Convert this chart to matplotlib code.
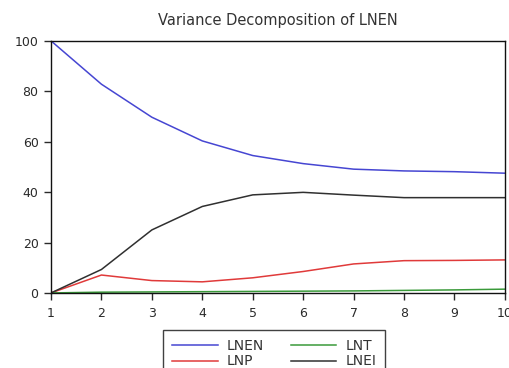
import matplotlib
matplotlib.use("Agg")
import matplotlib.pyplot as plt

plt.rcParams['font.family'] = ['DejaVu Sans']

periods = [1, 2, 3, 4, 5, 6, 7, 8, 9, 10]
lnen = [100.0, 82.8, 69.7, 60.3, 54.5, 51.3, 49.1, 48.4, 48.1, 47.5]
lnp = [0.0, 7.1, 4.9, 4.4, 6.0, 8.5, 11.5, 12.8, 12.9, 13.1]
lnt = [0.0, 0.3, 0.4, 0.5, 0.6, 0.7, 0.8, 1.0, 1.2, 1.5]
lnei = [0.0, 9.3, 25.0, 34.3, 38.9, 39.9, 38.8, 37.8, 37.8, 37.8]
yticks = [0, 20, 40, 60, 80, 100]

fig = plt.figure(figsize=(5.10, 3.68), dpi=100)
ax = fig.add_axes([0.100, 0.204, 0.890, 0.685])

ax.plot(periods, lnen, color='#4646d2', lw=1.1, label='LNEN')
ax.plot(periods, lnp, color='#e03a3a', lw=1.1, label='LNP')
ax.plot(periods, lnt, color='#3a9a3a', lw=1.1, label='LNT')
ax.plot(periods, lnei, color='#303030', lw=1.1, label='LNEI')

ax.set_xlim(1, 10)
ax.set_ylim(0, 100)
ax.set_xticks(periods)
ax.set_yticks(yticks)
ax.tick_params(direction='out', length=5, width=1, labelsize=9,
               colors='#2a2a2a')
ax.tick_params(axis='x', pad=5)
ax.tick_params(axis='y', pad=4)
for s in ax.spines.values():
    s.set_linewidth(1.0)
    s.set_color('#111111')

fig.text(0.544, 0.943, 'Variance Decomposition of LNEN', ha='center',
         va='center', fontsize=10.5, color='#333333')

handles, labels = ax.get_legend_handles_labels()
leg = fig.legend(handles, labels,
                 loc='upper left', bbox_to_anchor=(163 / 510, 1 - 330 / 368),
                 ncol=2, fontsize=10, frameon=True, fancybox=False,
                 edgecolor='#111111', handlelength=3.3, handletextpad=0.65,
                 columnspacing=1.9, labelspacing=0.1, borderpad=0.65,
                 borderaxespad=0)
leg.get_frame().set_linewidth(1.0)
for t in leg.get_texts():
    t.set_color('#333333')

fig.savefig('out.png', dpi=100)
